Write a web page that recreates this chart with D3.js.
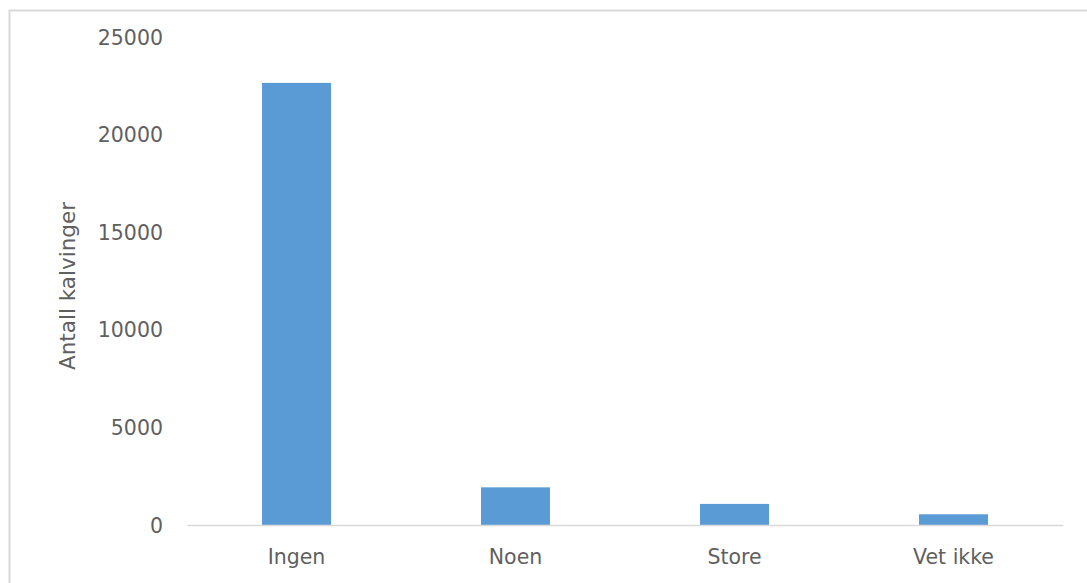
<!DOCTYPE html>
<html>
<head>
<meta charset="utf-8">
<script src="https://cdn.jsdelivr.net/npm/d3@7"></script>
<style>
  html, body { margin: 0; padding: 0; background: #fff; }
  svg { display: block; }
  text { font-family: "DejaVu Sans", "Liberation Sans", sans-serif; fill: #5f5f5f; }
</style>
</head>
<body>
<svg id="chart" width="1087" height="583"></svg>
<script>
// Calving difficulty categories and number of calvings
const categories = ["Ingen", "Noen", "Store", "Vet ikke"];
const values = [22650, 1930, 1080, 550];
const yTicks = [0, 5000, 10000, 15000, 20000, 25000];
const yTitle = "Antall kalvinger";

const W = 1087, H = 583;
const plot = { left: 187, right: 1063, top: 37, bottom: 525 };

const svg = d3.select("#chart");

// outer chart frame
svg.append("rect")
  .attr("x", 9.5).attr("y", 10.5)
  .attr("width", W + 20).attr("height", H + 20)
  .attr("fill", "none")
  .attr("stroke", "#d9d9d9")
  .attr("stroke-width", 2);

const x = d3.scaleBand()
  .domain(categories)
  .range([plot.left, plot.right])
  .paddingInner(0.685)
  .paddingOuter(0.3425);

const y = d3.scaleLinear()
  .domain([0, 25000])
  .range([plot.bottom, plot.top]);

// bars
svg.append("g")
  .selectAll("rect")
  .data(values)
  .join("rect")
  .attr("x", (d, i) => x(categories[i]))
  .attr("y", d => y(d))
  .attr("width", x.bandwidth())
  .attr("height", d => y(0) - y(d))
  .attr("fill", "#5b9bd5");

// y axis: labels only
const yAxis = svg.append("g")
  .attr("transform", `translate(${plot.left},0)`)
  .call(d3.axisLeft(y).tickValues(yTicks).tickFormat(d3.format("d")).tickSize(0).tickPadding(24));
yAxis.select(".domain").remove();
yAxis.selectAll("text")
  .style("font-size", "20.5px")
  .attr("dy", "0.35em");

// x axis: baseline and category labels
const xAxis = svg.append("g")
  .attr("transform", `translate(0,${plot.bottom})`)
  .call(d3.axisBottom(x).tickSize(0).tickPadding(24));
xAxis.select(".domain")
  .attr("stroke", "#d9d9d9")
  .attr("stroke-width", 1.5);
xAxis.selectAll("text")
  .style("font-size", "20.5px");

// y-axis title
svg.append("text")
  .attr("transform", "translate(75,286) rotate(-90)")
  .attr("text-anchor", "middle")
  .style("font-size", "21.5px")
  .text(yTitle);
</script>
</body>
</html>
